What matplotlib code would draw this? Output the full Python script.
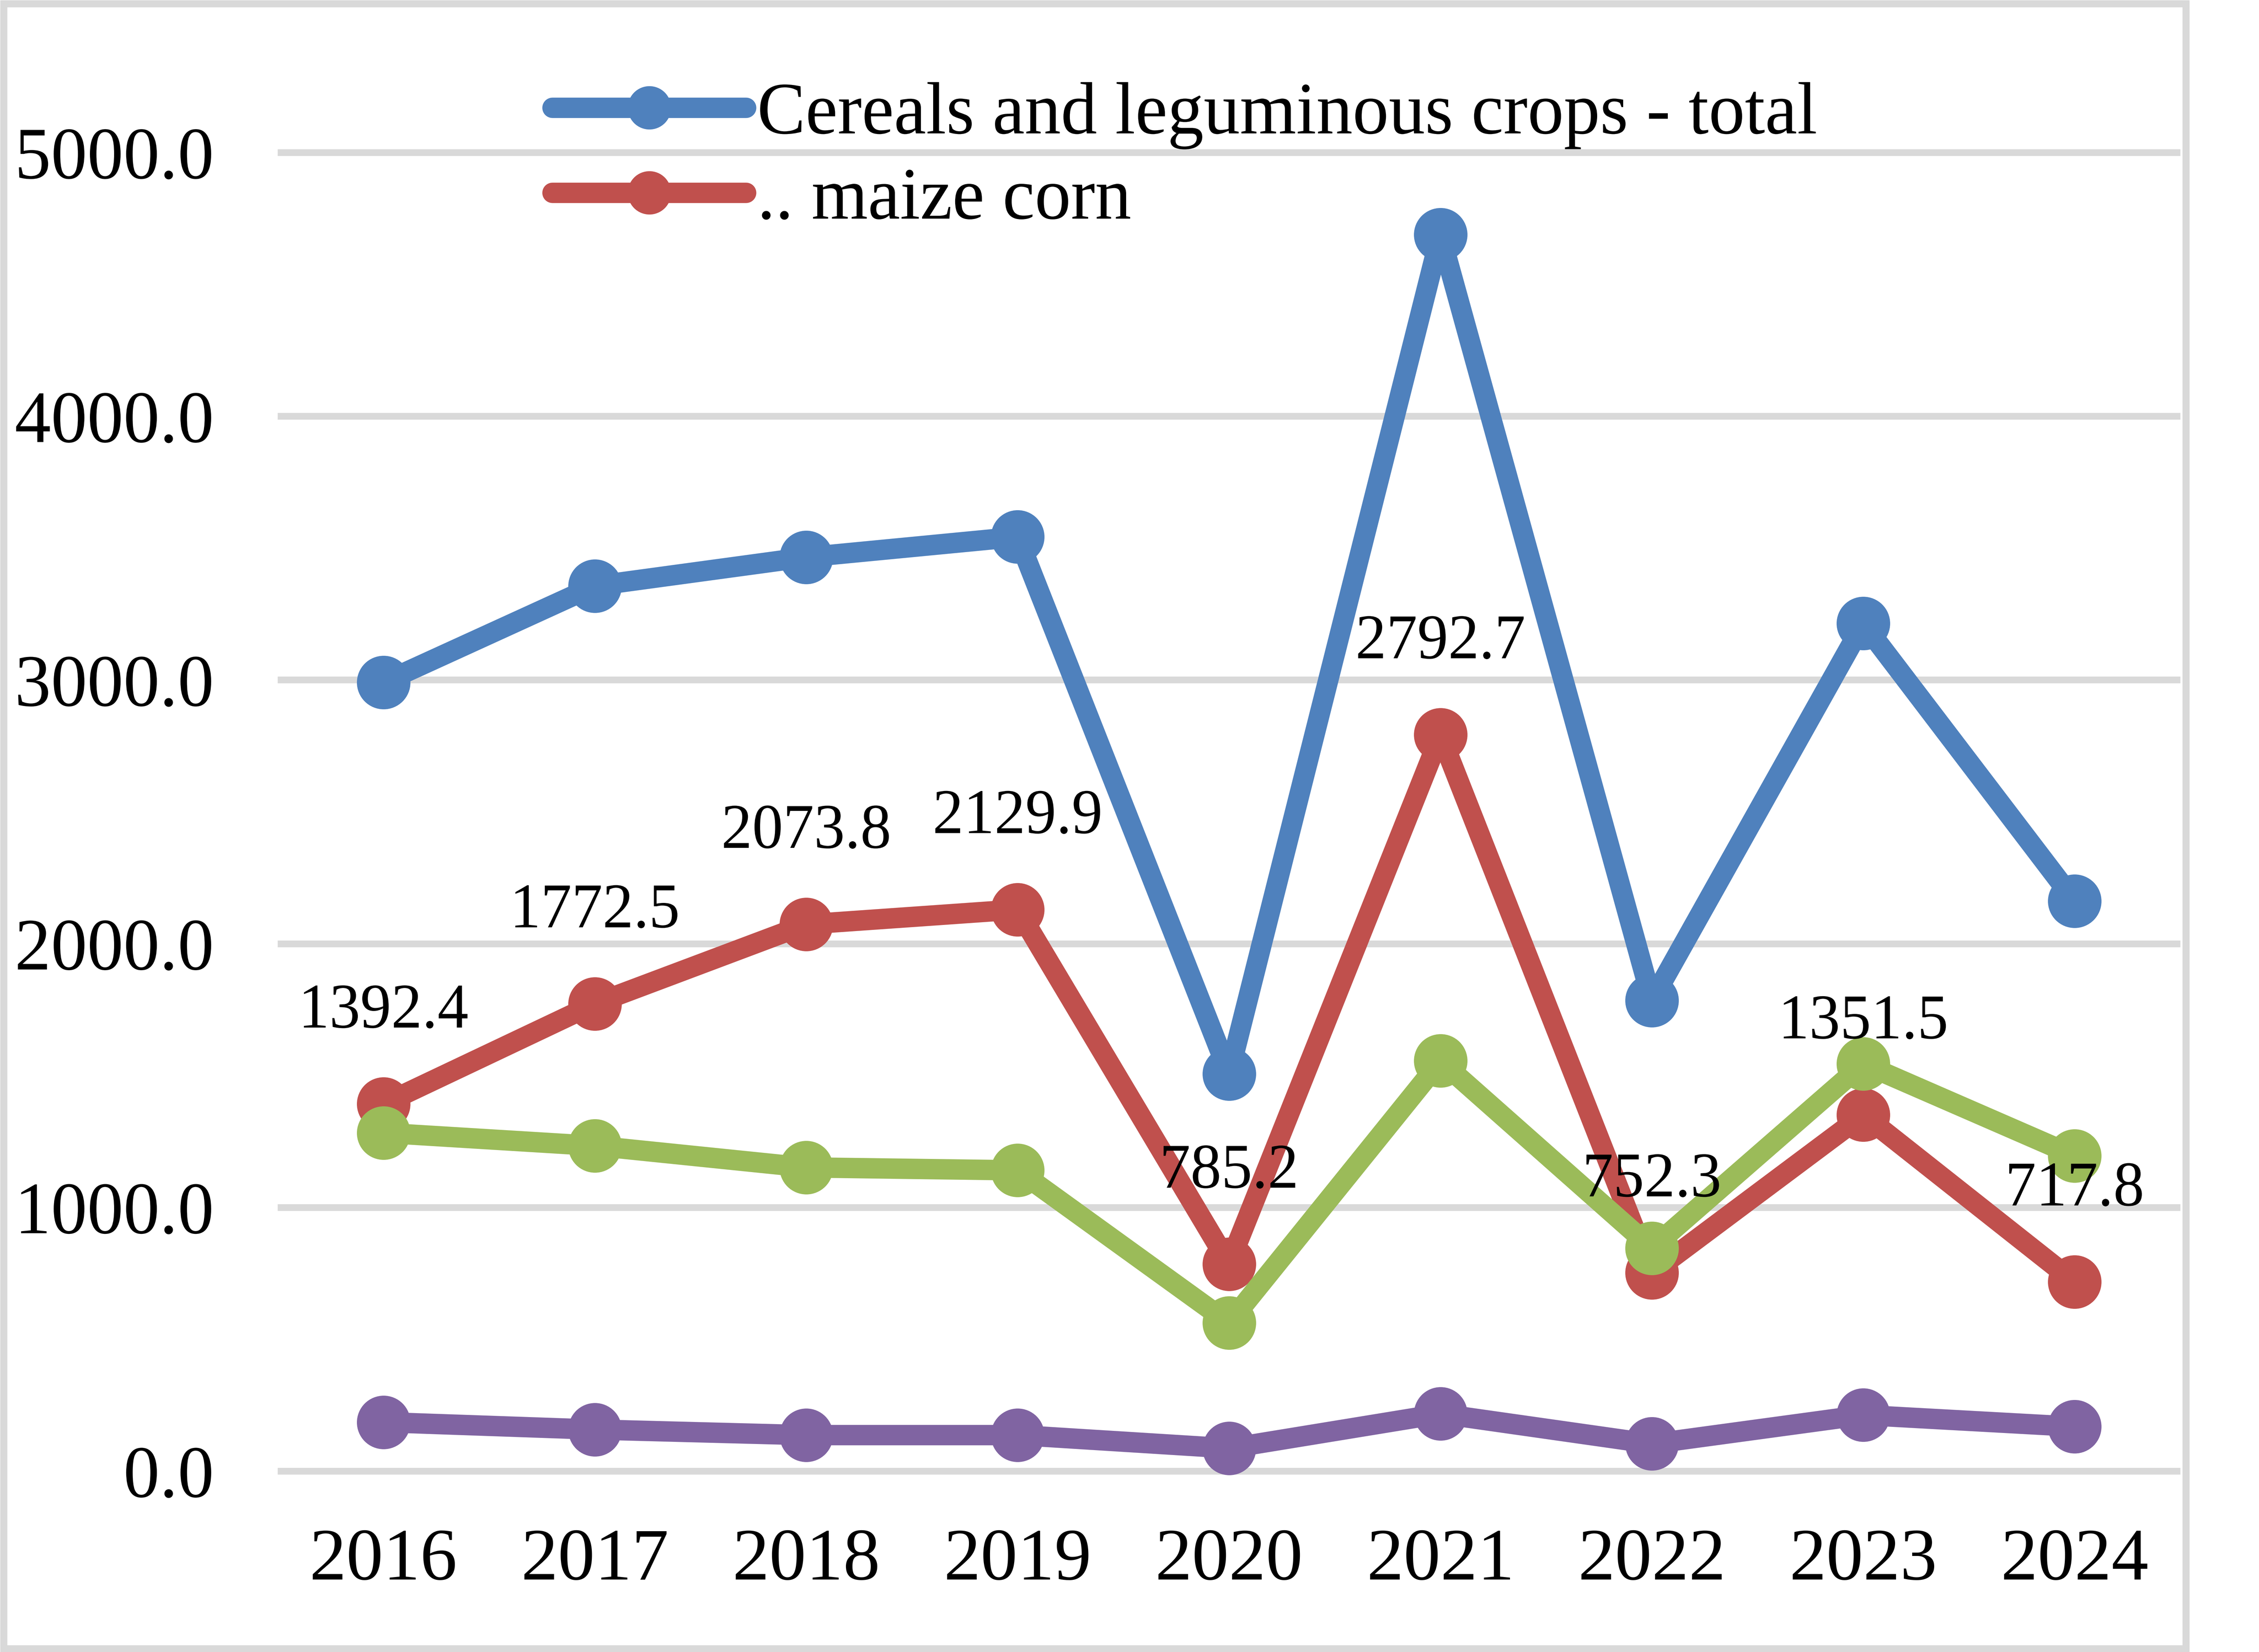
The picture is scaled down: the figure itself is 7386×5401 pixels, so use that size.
import matplotlib
matplotlib.use("Agg")
import matplotlib.pyplot as plt
from matplotlib import patheffects
from matplotlib.patches import Rectangle
from matplotlib.transforms import Affine2D

# data
years = ["2016", "2017", "2018", "2019", "2020", "2021", "2022", "2023", "2024"]
cereals_total = [2991, 3357, 3466, 3543, 1507, 4689, 1785, 3215, 2162]
maize_corn = [1392.4, 1772.5, 2073.8, 2129.9, 785.2, 2792.7, 752.3, 1351.5, 717.8]
series3 = [1283, 1234, 1152, 1141, 562, 1556, 846, 1545, 1196]
series4 = [186, 158, 137, 137, 87, 218, 104, 213, 169]
yticks = [0, 1000, 2000, 3000, 4000, 5000]

legend_names = ["Cereals and leguminous crops - total", ".. maize corn"]
colors = ["#4F81BD", "#C0504D", "#9BBB59", "#8064A2"]
grid_color = "#D9D9D9"
font = "Liberation Serif"


class Squeeze(patheffects.AbstractPathEffect):
    """narrow the glyphs a little, the reference text is slightly condensed"""
    def __init__(self, sx, anchor="center"):
        super().__init__()
        self.sx = sx
        self.anchor = anchor

    def draw_path(self, renderer, gc, tpath, affine, rgbFace=None):
        ext = tpath.get_extents(affine)
        if self.anchor == "right":
            x0 = ext.x1
        elif self.anchor == "left":
            x0 = ext.x0
        else:
            x0 = (ext.x0 + ext.x1) / 2
        affine = affine + Affine2D().translate(-x0, 0).scale(self.sx, 1).translate(x0, 0)
        renderer.draw_path(gc, tpath, affine, rgbFace)


W, H, DPI = 7386, 5401, 600
fig = plt.figure(figsize=(W / DPI, H / DPI), dpi=DPI)

# axes placed so that 0 sits at y=4810px and 5000 at y=499px
ppu = (4810 - 499) / 5000.0
ymin, ymax = -100, 5400
ax_bottom = 4810 + (-ymin) * ppu
ax_top = 4810 - ymax * ppu
ax = fig.add_axes([908 / W, 1 - ax_bottom / H, (7129 - 908) / W, (ax_bottom - ax_top) / H])

x = list(range(len(years)))
all_series = [cereals_total, maize_corn, series3, series4]
lines = []
for i, vals in enumerate(all_series):
    ln, = ax.plot(x, vals, color=colors[i], lw=8.0, marker="o", ms=20,
                  solid_capstyle="round", zorder=3 + i, clip_on=False)
    lines.append(ln)

# data labels on the maize series
for xi, v in zip(x, maize_corn):
    t = ax.annotate(f"{v:.1f}", (xi, v), xytext=(0, 30), textcoords="offset points",
                    ha="center", va="baseline", fontsize=25, family=font, zorder=10)
    t.set_path_effects([Squeeze(0.97, "center")])

ax.set_xlim(-0.5, len(years) - 0.5)
ax.set_ylim(ymin, ymax)
ax.set_xticks(x, years)
ax.set_yticks(yticks, [f"{v:.1f}" for v in yticks])
ax.yaxis.grid(True, color=grid_color, lw=2.64)
ax.set_axisbelow(True)
for s in ax.spines.values():
    s.set_visible(False)
ax.tick_params(axis="both", length=0, labelsize=29)
ax.tick_params(axis="y", pad=25)
ax.tick_params(axis="x", pad=12)
for lab in ax.get_xticklabels() + ax.get_yticklabels():
    lab.set_family(font)
for tk in ax.yaxis.get_major_ticks():
    tk.label1.set_path_effects([Squeeze(0.98, "right")])

leg = fig.legend(lines[:2], legend_names, loc="upper left",
                 bbox_to_anchor=(1806 / W, 1 - 267 / H), frameon=False,
                 prop={"family": font, "size": 29}, handlelength=2.62,
                 handletextpad=0.15, labelspacing=0.24, borderpad=0,
                 borderaxespad=0, markerscale=0.8)
for txt in leg.get_texts():
    txt.set_path_effects([Squeeze(0.98, "left")])

# light grey frame around the chart area
fig.patches.append(Rectangle((11.5 / W, 11.5 / H), (7158 - 23) / W, (H - 23) / H,
                             transform=fig.transFigure, fill=False,
                             edgecolor=grid_color, lw=23 * 72 / DPI))

fig.savefig("out.png", dpi=DPI)
